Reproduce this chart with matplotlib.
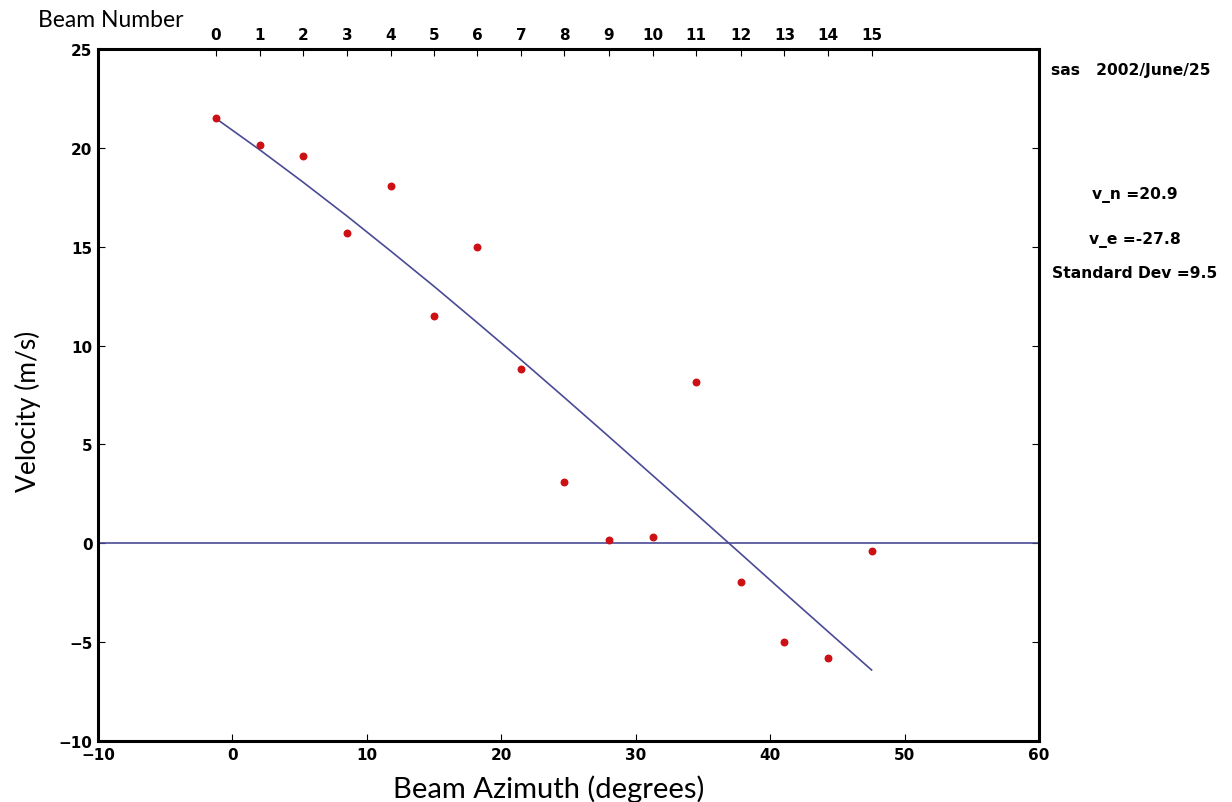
import numpy as np
import matplotlib
matplotlib.use("Agg")
import matplotlib.pyplot as plt

plt.rcParams["font.family"] = ["DejaVu Sans"]

# beam azimuths (degrees) and measured line-of-sight velocities (m/s)
beam_numbers = list(range(16))
azimuths = [-1.25, 2.04, 5.25, 8.53, 11.8, 15.03, 18.2, 21.5,
            24.7, 28.0, 31.3, 34.5, 37.8, 41.07, 44.3, 47.55]
velocities = [21.5, 20.15, 19.6, 15.7, 18.07, 11.5, 15.0, 8.8,
              3.1, 0.17, 0.32, 8.16, -1.96, -5.0, -5.8, -0.39]
# fitted velocity at each beam
fit_values = [21.50, 19.90, 18.27, 16.55, 14.77, 12.98, 11.17, 9.26,
              7.37, 5.40, 3.41, 1.48, -0.52, -2.51, -4.46, -6.41]

info_lines = ["v_n =20.9", "v_e =-27.8", "Standard Dev =9.5"]
title_text = "sas   2002/June/25"

line_col = "#4a4a96"
dot_col = "#cc1014"

fig = plt.figure(figsize=(12.32, 8.03), dpi=100)
ax = fig.add_axes([0.0795, 0.076, 0.7638, 0.8617])

ax.plot(azimuths, fit_values, color=line_col, lw=1.2)
ax.axhline(0, color=line_col, lw=1.2)
ax.scatter(azimuths, velocities, color=dot_col, s=22, zorder=3)

ax.set_xlim(-10, 60)
ax.set_ylim(-10, 25)
ax.set_xticks(range(-10, 61, 10))
ax.set_yticks(range(-10, 26, 5))
ax.tick_params(direction="in", length=5, width=0.8, top=False, right=True,
               labelsize=11, pad=4)
ax.set_xticklabels(["\u221210", "0", "10", "20", "30", "40", "50", "60"],
                   fontweight="bold")
ax.set_yticklabels(["\u221210", "\u22125", "0", "5", "10", "15", "20", "25"],
                   fontweight="bold")
for sp in ax.spines.values():
    sp.set_linewidth(2.2)

# beam number axis on top
top = ax.twiny()
top.set_xlim(ax.get_xlim())
top.set_xticks(azimuths)
top.set_xticklabels([str(b) for b in beam_numbers], fontweight="bold",
                    fontsize=11)
top.tick_params(direction="in", length=5, width=0.8, pad=5)
for sp in top.spines.values():
    sp.set_visible(False)

ax.set_xlabel("Beam Azimuth (degrees)", family="Lato", fontsize=21)
ax.xaxis.set_label_coords(0.4785, -0.048)
ax.set_ylabel("Velocity (m/s)", family="Lato", fontsize=19)
ax.yaxis.set_label_coords(-0.06, 0.478)
fig.text(0.031, 0.975, "Beam Number", family="Lato", fontsize=16.5,
         ha="left", va="center")

fig.text(0.853, 0.912, title_text, fontsize=11.2, fontweight="bold",
         ha="left", va="center")
ys = [0.757, 0.701, 0.659]
for t, y in zip(info_lines, ys):
    fig.text(0.921, y, t, fontsize=11.2, fontweight="bold",
             ha="center", va="center")

fig.savefig("out.png", dpi=100)
